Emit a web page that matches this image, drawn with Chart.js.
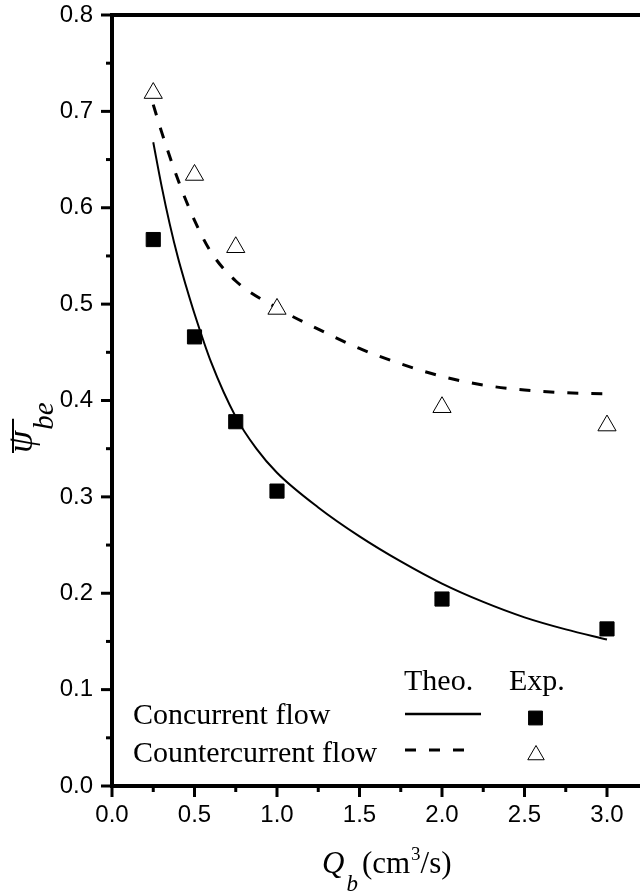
<!DOCTYPE html>
<html>
<head>
<meta charset="utf-8">
<script src="https://cdn.jsdelivr.net/npm/chart.js@4"></script>
<style>
  html, body { margin: 0; padding: 0; background: #fff; }
  #wrap { width: 640px; height: 892px; }
</style>
</head>
<body>
<div id="wrap"><canvas id="myChart" width="640" height="892"></canvas></div>
<script>
/* data */

// experimental points
const qbExp = [0.25, 0.5, 0.75, 1.0, 2.0, 3.0];
const concurrentExp = [0.567, 0.466, 0.378, 0.306, 0.194, 0.163];
const counterExp = [0.719, 0.634, 0.559, 0.495, 0.393, 0.374];

// theoretical curves
const qbConcTheo = [0.25, 0.3, 0.35, 0.4, 0.45, 0.5, 0.6, 0.75, 0.875, 1.0, 1.25, 1.5, 1.75, 2.0, 2.25, 2.5, 2.75, 3.0];
const concurrentTheo = [0.668, 0.623, 0.583, 0.548, 0.518, 0.490, 0.440, 0.383, 0.350, 0.325, 0.289, 0.259, 0.233, 0.210, 0.191, 0.175, 0.1625, 0.152];
const qbCounterTheo = [0.25, 0.3, 0.4, 0.5, 0.6, 0.75, 1.0, 1.25, 1.5, 1.75, 2.0, 2.25, 2.5, 2.75, 3.0];
const counterTheo = [0.707, 0.679, 0.629, 0.587, 0.554, 0.524, 0.496, 0.474, 0.454, 0.438, 0.425, 0.416, 0.411, 0.408, 0.407];

// ticks
const xMajorTicks = [0, 0.5, 1.0, 1.5, 2.0, 2.5, 3.0];
const xMinorTicks = [0.25, 0.75, 1.25, 1.75, 2.25, 2.75];
const yMajorTicks = [0, 0.1, 0.2, 0.3, 0.4, 0.5, 0.6, 0.7, 0.8];
const yMinorTicks = [0.05, 0.15, 0.25, 0.35, 0.45, 0.55, 0.65, 0.75];

const SERIF = '"Liberation Serif", "Times New Roman", serif';
const SANS = '"Liberation Sans", Arial, sans-serif';

function pts(xs, ys) {
  return xs.map(function (x, i) { return { x: x, y: ys[i] }; });
}

function line(ctx, x1, y1, x2, y2) {
  ctx.beginPath();
  ctx.moveTo(x1, y1);
  ctx.lineTo(x2, y2);
  ctx.stroke();
}

// axes, ticks, titles and the little legend table
const framePlugin = {
  id: 'frame',
  afterDraw(chart) {
    const ctx = chart.ctx;
    const a = chart.chartArea;
    const x = chart.scales.x;
    const y = chart.scales.y;
    ctx.save();
    ctx.strokeStyle = '#000';
    ctx.fillStyle = '#000';

    // ticks
    ctx.lineWidth = 3;
    xMajorTicks.forEach(function (v) {
      const px = x.getPixelForValue(v);
      line(ctx, px, a.bottom, px, a.bottom + 11);
    });
    xMinorTicks.forEach(function (v) {
      const px = x.getPixelForValue(v);
      line(ctx, px, a.bottom, px, a.bottom + 6);
    });
    yMajorTicks.forEach(function (v) {
      const py = y.getPixelForValue(v);
      line(ctx, a.left - 11, py, a.left, py);
    });
    yMinorTicks.forEach(function (v) {
      const py = y.getPixelForValue(v);
      line(ctx, a.left - 6, py, a.left, py);
    });

    // axis lines
    ctx.lineWidth = 4;
    line(ctx, a.left, a.top - 2, a.left, a.bottom + 2);
    line(ctx, a.left - 2, a.bottom, a.right, a.bottom);
    line(ctx, a.left - 2, a.top, a.right, a.top);

    // x title: Q_b (cm^3/s)
    ctx.textBaseline = 'alphabetic';
    ctx.textAlign = 'left';
    let tx = 322;
    const base = 873;
    ctx.font = 'italic 31px ' + SERIF;
    ctx.fillText('Q', tx, base);
    tx += ctx.measureText('Q').width + 2;
    ctx.font = 'italic 23px ' + SERIF;
    ctx.fillText('b', tx, base + 18);
    tx += ctx.measureText('b').width + 4;
    ctx.font = '31px ' + SERIF;
    ctx.fillText('(cm', tx, base);
    tx += ctx.measureText('(cm').width + 1;
    ctx.font = '19px ' + SERIF;
    ctx.fillText('3', tx, base - 13);
    tx += ctx.measureText('3').width;
    ctx.font = '31px ' + SERIF;
    ctx.fillText('/s)', tx, base);

    // y title: overlined psi_be, rotated
    ctx.save();
    ctx.translate(32, 453);
    ctx.rotate(-Math.PI / 2);
    ctx.font = 'italic 36px ' + SERIF;
    ctx.fillText('\u03C8', 0, 0);
    const psiW = ctx.measureText('\u03C8').width;
    ctx.font = 'italic 29px ' + SERIF;
    ctx.fillText('be', psiW + 1, 21);
    ctx.lineWidth = 2;
    line(ctx, 0, -19, psiW + 12, -19);
    ctx.restore();

    // legend table
    ctx.font = '30px ' + SERIF;
    ctx.fillText('Theo.', 404, 690);
    ctx.fillText('Exp.', 509, 690);
    ctx.fillText('Concurrent flow', 133, 724);
    ctx.fillText('Countercurrent flow', 133, 762);

    ctx.lineWidth = 2.5;
    line(ctx, 405, 714, 481, 714);
    ctx.lineWidth = 3;
    ctx.setLineDash([11, 13]);
    line(ctx, 405, 750, 470, 750);
    ctx.setLineDash([]);

    const drawPoint = Chart.helpers && Chart.helpers.drawPoint;
    if (drawPoint) {
      ctx.fillStyle = '#000';
      ctx.strokeStyle = '#000';
      ctx.lineWidth = 1;
      drawPoint(ctx, { pointStyle: 'rect', radius: 9.8, borderWidth: 1, rotation: 0 }, 535.5, 718);
      ctx.fillStyle = '#fff';
      drawPoint(ctx, { pointStyle: 'triangle', radius: 9.5, borderWidth: 1, rotation: 0 }, 536, 755);
    }
    ctx.restore();
  }
};

const ctx = document.getElementById('myChart').getContext('2d');

const chart = new Chart(ctx, {
  type: 'scatter',
  data: {
    datasets: [
      {
        label: 'Concurrent flow (Exp.)',
        data: pts(qbExp, concurrentExp),
        pointStyle: 'rect',
        pointRadius: 10,
        backgroundColor: '#000',
        borderColor: '#000',
        borderWidth: 1,
        showLine: false
      },
      {
        label: 'Countercurrent flow (Exp.)',
        data: pts(qbExp, counterExp),
        pointStyle: 'triangle',
        pointRadius: 10.5,
        backgroundColor: '#fff',
        borderColor: '#000',
        borderWidth: 1,
        showLine: false
      },
      {
        label: 'Concurrent flow (Theo.)',
        data: pts(qbConcTheo, concurrentTheo),
        showLine: true,
        pointRadius: 0,
        borderColor: '#000',
        borderWidth: 2,
        cubicInterpolationMode: 'monotone'
      },
      {
        label: 'Countercurrent flow (Theo.)',
        data: pts(qbCounterTheo, counterTheo),
        showLine: true,
        pointRadius: 0,
        borderColor: '#000',
        borderWidth: 3,
        borderDash: [11, 13],
        cubicInterpolationMode: 'monotone'
      }
    ]
  },
  options: {
    responsive: false,
    animation: false,
    devicePixelRatio: 1,
    layout: { autoPadding: false, padding: { top: 15, left: 0, right: 0, bottom: 0 } },
    plugins: {
      legend: { display: false },
      tooltip: { enabled: false }
    },
    scales: {
      x: {
        type: 'linear',
        min: 0,
        max: 3.2,
        grid: { display: false, drawTicks: false },
        border: { display: false },
        ticks: {
          stepSize: 0.5,
          includeBounds: false,
          padding: 15,
          color: '#000',
          font: { family: SANS, size: 24 },
          maxRotation: 0,
          callback: function (v) { return Number(v).toFixed(1); }
        },
        afterFit: function (scale) {
          scale.height = 106;
          scale.paddingLeft = 0;
          scale.paddingRight = 0;
        }
      },
      y: {
        type: 'linear',
        min: 0,
        max: 0.8,
        grid: { display: false, drawTicks: false },
        border: { display: false },
        ticks: {
          stepSize: 0.1,
          padding: 19,
          color: '#000',
          font: { family: SANS, size: 24 },
          callback: function (v) { return Number(v).toFixed(1); }
        },
        afterFit: function (scale) {
          scale.width = 112;
          scale.paddingTop = 0;
          scale.paddingBottom = 0;
        }
      }
    }
  },
  plugins: [framePlugin]
});
</script>
</body>
</html>
